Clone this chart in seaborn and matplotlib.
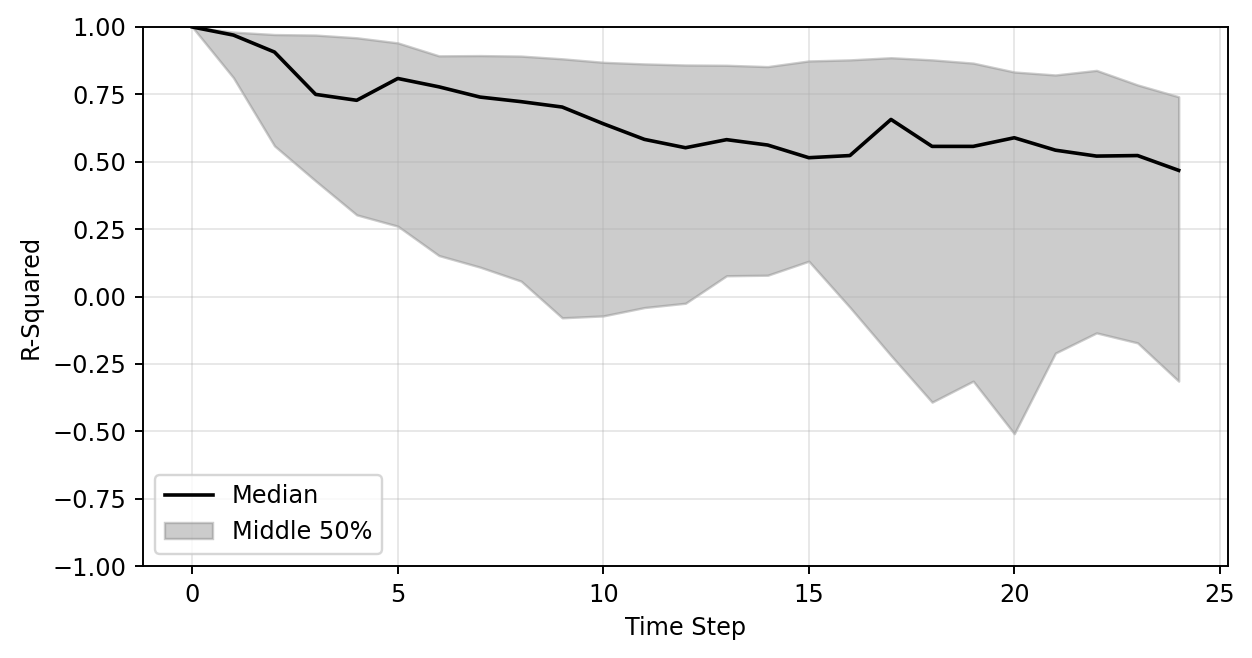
import matplotlib
matplotlib.use("Agg")
import matplotlib.pyplot as plt
import seaborn as sns
import numpy as np
import pandas as pd

time_steps = list(range(25))
median = [1.0, 0.970, 0.907, 0.750, 0.728, 0.809, 0.778, 0.740, 0.723, 0.703, 0.641, 0.583,
          0.552, 0.582, 0.562, 0.515, 0.523, 0.657, 0.557, 0.557, 0.589, 0.543, 0.521, 0.523, 0.468]
upper = [1.0, 0.981, 0.972, 0.970, 0.960, 0.941, 0.893, 0.894, 0.892, 0.882, 0.869, 0.863,
         0.859, 0.858, 0.853, 0.874, 0.878, 0.886, 0.878, 0.866, 0.833, 0.822, 0.839, 0.785, 0.741]
lower = [1.0, 0.812, 0.559, 0.429, 0.303, 0.261, 0.152, 0.109, 0.057, -0.079, -0.072, -0.041,
         -0.025, 0.077, 0.079, 0.131, -0.040, -0.219, -0.392, -0.314, -0.509, -0.210, -0.135, -0.172, -0.314]

df = pd.DataFrame({"t": time_steps, "median": median, "upper": upper, "lower": lower})

DPI = 173
fig, ax = plt.subplots(figsize=(1252 / DPI, 658 / DPI), dpi=DPI)
fig.subplots_adjust(left=143 / 1252, right=1228 / 1252, top=1 - 27 / 658, bottom=1 - 566 / 658)

sns.lineplot(data=df, x="t", y="median", color="black", linewidth=1.5, ax=ax, label="Median")
ax.fill_between(df["t"], df["lower"], df["upper"], color="gray", alpha=0.4, label="Middle 50%")

ax.set_ylim(-1, 1)
ax.set_xlim(-1.2, 25.2)
ax.set_yticks(np.arange(-1, 1.01, 0.25))
ax.set_xticks([0, 5, 10, 15, 20, 25])
ax.set_xlabel("Time Step")
ax.set_ylabel("R-Squared")
ax.grid(True, alpha=0.3)
ax.legend(loc="lower left")

fig.savefig("out.png", dpi=DPI)
